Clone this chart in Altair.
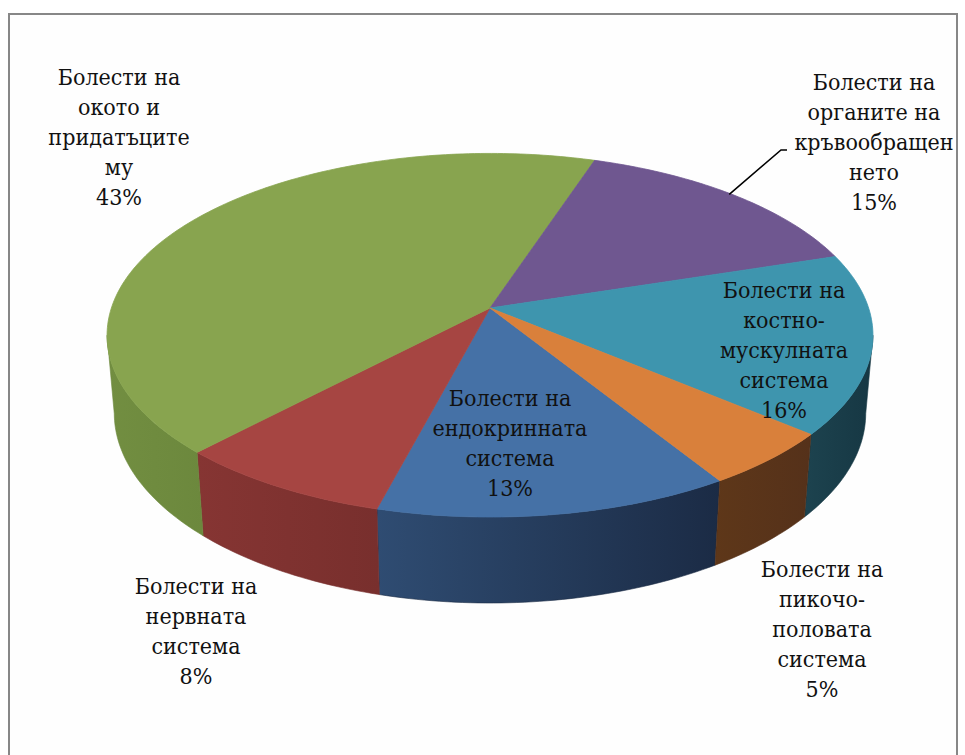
import math
import altair as alt
import pandas as pd

# ---------------- data ----------------
categories = [
    "Болести на ендокринната система",
    "Болести на нервната система",
    "Болести на окото и придатъците му",
    "Болести на органите на кръвообращението",
    "Болести на костно-мускулната система",
    "Болести на пикочо-половата система",
]
label_lines = [
    ["Болести на", "ендокринната", "система"],
    ["Болести на", "нервната", "система"],
    ["Болести на", "окото и", "придатъците", "му"],
    ["Болести на", "органите на", "кръвообращен", "нето"],
    ["Болести на", "костно-", "мускулната", "система"],
    ["Болести на", "пикочо-", "половата", "система"],
]
percent = [13, 8, 43, 15, 16, 5]

# ---------------- styles / layout ----------------
top_colors = ["#4571A6", "#A64542", "#88A44F", "#6F5790", "#3E95AE", "#D9803B"]
side_colors = [
    ("#2F4C72", "#1B2B45"),
    ("#863533", "#782F2D"),
    ("#728E41", "#6C883D"),
    ("#4A3A60", "#40324F"),
    ("#1D434F", "#163743"),
    ("#5E3719", "#55311A"),
]
# label anchor (centre x, first-line centre y) in pixels, per slice
label_pos = [(510, 399), (196, 587), (119, 78), (874, 83), (784, 291), (822, 570)]
FONT = "DejaVu Serif Condensed, DejaVu Serif"

START = 148.0  # angle of first slice (deg, clockwise from back)
CX, CY = 490.0, 308.0
K, D = 2230.0, 5.89
E = math.radians(28)
H = 0.235
sE, cE = math.sin(E), math.cos(E)


def proj(theta_deg, Y=0.0):
    t = math.radians(theta_deg)
    X, Z = math.sin(t), math.cos(t)
    depth = D + Z * cE - Y * sE
    up = Z * sE + Y * cE
    return [CX + K * X / depth, CY - K * up / depth]


def arc_pts(a, b, Y=0.0):
    n = max(2, int(abs(b - a)) + 1)
    return [proj(a + (b - a) * i / (n - 1), Y) for i in range(n)]


def feature(ring, props):
    ring = ring + [ring[0]]
    return {"type": "Feature", "geometry": {"type": "Polygon", "coordinates": [ring]},
            "properties": props}


vis_a = math.degrees(math.acos(-cE / D))
vis_b = 360 - vis_a

tot = float(sum(percent))
angles = []
acc = START
for p in percent:
    span = 360.0 * p / tot
    angles.append((acc, acc + span))
    acc += span

layers = []
frame = alt.Chart(pd.DataFrame({"a": [0]})).mark_rect(
    fill="#FEFEFE", stroke="#878787", strokeWidth=2
).encode(x=alt.value(9), x2=alt.value(957), y=alt.value(14), y2=alt.value(770))
layers.append(frame)

# side walls
for i, (a, b) in enumerate(angles):
    for shift in (0, 360, -360):
        lo = max(a, vis_a + shift)
        hi = min(b, vis_b + shift)
        if hi > lo:
            ring = arc_pts(lo, hi, 0.0) + arc_pts(hi, lo, -H)
            grad = alt.LinearGradient(
                gradient="linear",
                stops=[alt.GradientStop(color=side_colors[i][0], offset=0),
                       alt.GradientStop(color=side_colors[i][1], offset=1)],
                x1=0, x2=1, y1=0, y2=0,
            )
            layers.append(
                alt.Chart(alt.Data(values=[feature(ring, {"cat": categories[i]})]))
                .mark_geoshape(fill=grad, stroke=side_colors[i][1], strokeWidth=0.6)
            )

# top faces
tops = []
for i, (a, b) in enumerate(angles):
    ring = [[CX, CY]] + arc_pts(a, b, 0.0)
    tops.append(feature(ring, {"cat": categories[i]}))

cscale = alt.Scale(domain=categories, range=top_colors)
layers.append(alt.Chart(alt.Data(values=tops)).mark_geoshape(strokeWidth=0.8).encode(
    fill=alt.Fill("properties.cat:N", scale=cscale, legend=None),
    stroke=alt.Stroke("properties.cat:N", scale=cscale, legend=None),
))

# leader line for the purple slice
pa, pb = angles[3]
start = proj((pa + pb) / 2 - 1, 0.0)
lx, ly = label_pos[3]
leader = pd.DataFrame({"lon": [start[0], lx - 93, lx - 87],
                       "lat": [start[1] + 1, ly + 67, ly + 67], "o": [0, 1, 2]})
layers.append(alt.Chart(leader).mark_line(color="black", strokeWidth=1.6).encode(
    longitude="lon:Q", latitude="lat:Q", order="o:Q"))

# labels
lab = pd.DataFrame({
    "text": ["\n".join(l + [f"{p}%"]) for l, p in zip(label_lines, percent)],
    "lon": [p[0] for p in label_pos],
    "lat": [p[1] for p in label_pos],
})
layers.append(alt.Chart(lab).mark_text(
    font=FONT, fontSize=23, lineHeight=30, lineBreak="\n",
    align="center", baseline="middle", color="#111111",
).encode(longitude="lon:Q", latitude="lat:Q", text="text:N"))

chart = (
    alt.layer(*layers)
    .project(type="identity", scale=1, translate=[0, 0])
    .properties(width=965, height=755, padding=0, autosize="none", background="white")
    .configure_view(stroke=None)
)
chart.save("out.html", embed_options={"renderer": "svg", "actions": False})
